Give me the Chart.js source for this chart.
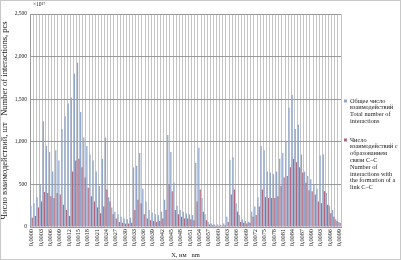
<!DOCTYPE html>
<html>
<head>
<meta charset="utf-8">
<script src="https://cdn.jsdelivr.net/npm/chart.js@4"></script>
<style>
  html, body { margin: 0; padding: 0; background: #fff; }
  #box { width: 401px; height: 260px; }
</style>
</head>
<body>
<div id="box"><canvas id="chartCanvas" width="401" height="260"></canvas></div>
<script>
'use strict';

// categories: x, nm (100 bins, every third label shown)
const categories = [];
for (let i = 0; i < 100; i++) {
    categories.push('0,' + String(i).padStart(4, '0'));
}

// Total number of interactions
const totalValues = [
    250, 280, 350, 500, 1240, 950, 880, 650, 900, 780,
    1150, 1300, 1450, 1520, 1800, 1930, 1350, 1050, 950, 850,
    780, 650, 480, 800, 1050, 350, 230, 180, 150, 120,
    100, 90, 110, 700, 720, 870, 450, 300, 200, 170,
    150, 140, 180, 320, 1080, 880, 520, 250, 200, 180,
    160, 150, 140, 750, 930, 340, 150, 60, 40, 30,
    30, 25, 40, 120, 790, 820, 280, 140, 90, 70,
    60, 180, 240, 350, 950, 900, 650, 640, 620, 650,
    800, 870, 1000, 1400, 1550, 1150, 1200, 850, 650, 600,
    560, 500, 450, 840, 850, 400, 250, 200, 90, 60
];

// Number of interactions with the formation of a C-C link
const ccValues = [
    110, 130, 230, 300, 410, 400, 360, 340, 400, 380,
    260, 200, 130, 650, 780, 800, 700, 580, 460, 360,
    300, 230, 160, 240, 440, 300, 150, 100, 60, 50,
    40, 40, 50, 200, 320, 280, 150, 100, 80, 70,
    60, 70, 100, 200, 500, 420, 200, 150, 120, 100,
    100, 90, 80, 300, 440, 180, 80, 30, 20, 15,
    15, 10, 20, 60, 380, 440, 180, 60, 50, 40,
    50, 120, 140, 240, 440, 350, 340, 340, 340, 360,
    480, 580, 600, 700, 800, 760, 700, 640, 520, 430,
    420, 380, 300, 280, 420, 260, 160, 120, 70, 50
];

const yTicks = [0, 500, 1000, 1500, 2000, 2500];

const legendItems = [
    { color: '#8fa7d0', lines: ['Общее число', 'взаимодействий', 'Total number of', 'interactions'], top: 101 },
    { color: '#b0667d', lines: ['Число', 'взаимодействий с', 'образованием', 'связи C–C', 'Number of', 'interactions with', 'the formation of a', 'link C–C'], top: 140 }
];

const SERIF = '"Liberation Serif", "DejaVu Serif", serif';

// legend, scale factor and frame drawn by hand
const extrasPlugin = {
    id: 'extras',
    afterDraw(chart) {
        const ctx = chart.ctx;
        ctx.save();
        ctx.strokeStyle = '#c8c8c8';
        ctx.lineWidth = 1;
        ctx.strokeRect(0.5, 0.5, chart.width - 1, chart.height - 1);

        ctx.fillStyle = '#222';
        ctx.font = '5.5px ' + SERIF;
        ctx.textBaseline = 'middle';
        ctx.fillText('×10¹⁷', 33, 5);

        ctx.font = '6.3px ' + SERIF;
        legendItems.forEach(item => {
            ctx.fillStyle = item.color;
            ctx.fillRect(344, item.top - 1.5, 3, 3);
            ctx.fillStyle = '#222';
            item.lines.forEach((line, k) => {
                ctx.fillText(line, 350, item.top + k * 6.8);
            });
        });
        ctx.restore();
    }
};

const ctx = document.getElementById('chartCanvas').getContext('2d');
window.myChart = new Chart(ctx, {
    type: 'bar',
    data: {
        labels: categories,
        datasets: [
            {
                label: 'Общее число взаимодействий Total number of interactions',
                data: totalValues,
                backgroundColor: '#8fa7d0',
                borderWidth: 0
            },
            {
                label: 'Число взаимодействий с образованием связи C–C Number of interactions with the formation of a link C–C',
                data: ccValues,
                backgroundColor: '#b0667d',
                borderWidth: 0
            }
        ]
    },
    options: {
        responsive: false,
        animation: false,
        devicePixelRatio: 1,
        layout: { padding: { left: 0, right: 60, top: 14, bottom: 0 } },
        datasets: { bar: { categoryPercentage: 0.85, barPercentage: 0.95 } },
        plugins: {
            legend: { display: false },
            tooltip: { enabled: false }
        },
        scales: {
            x: {
                grid: { color: '#c4c4c4', lineWidth: 1, drawTicks: false, offset: true },
                border: { color: '#9a9a9a' },
                ticks: {
                    autoSkip: false,
                    minRotation: 90,
                    maxRotation: 90,
                    padding: 2,
                    color: '#222',
                    font: { family: SERIF, size: 6.3 },
                    callback: function(value, index) {
                        return index % 3 === 0 ? categories[index] : '';
                    }
                },
                title: {
                    display: true,
                    text: 'X, нм   nm',
                    color: '#222',
                    padding: { top: 0, bottom: 1 },
                    font: { family: SERIF, size: 6.5 }
                },
                afterFit: function(scale) { scale.height = 33; }
            },
            y: {
                min: 0,
                max: 2500,
                afterBuildTicks: function(scale) {
                    scale.ticks = yTicks.map(v => ({ value: v }));
                },
                grid: { color: '#9a9a9a', lineWidth: 1, drawTicks: false },
                border: { color: '#9a9a9a' },
                ticks: {
                    padding: 3,
                    color: '#222',
                    font: { family: SERIF, size: 5.5 }
                },
                title: {
                    display: true,
                    text: 'Число взаимодействий, шт   Number of interactions, pcs',
                    color: '#111',
                    padding: { top: 0, bottom: 0 },
                    font: { family: SERIF, size: 8.5 }
                },
                afterFit: function(scale) { scale.width = 30; }
            }
        }
    },
    plugins: [extrasPlugin]
});
</script>
</body>
</html>
